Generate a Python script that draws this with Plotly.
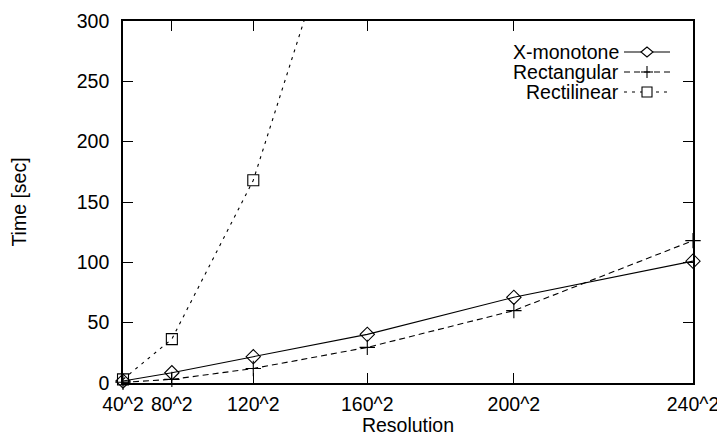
import plotly.graph_objects as go

# ---- data ----
resolution = [40, 80, 120, 160, 200, 240]
tick_labels = ["40^2", "80^2", "120^2", "160^2", "200^2", "240^2"]
x_monotone = [1.6, 8.5, 21.8, 40.3, 71.0, 101.0]
rectangular = [0.6, 3.0, 12.0, 29.5, 60.0, 118.0]
rectilinear = [3.0, 36.4, 168.0, 465.0]
series_names = ["X-monotone", "Rectangular", "Rectilinear"]
y_ticks = [0, 50, 100, 150, 200, 250, 300]

pixels = [r * r for r in resolution]
y_max = 300

FONT = "Liberation Sans, Arial, Helvetica, sans-serif"
FS = 19.5

# the page body has an 8px margin, so the figure is offset by (8, 8)
OFF = 8
W, H = 725 - OFF, 436 - OFF
L, R, T, B = 123 - OFF, 32, 21 - OFF, 53
plot_w = W - L - R
plot_h = H - T - B

fig = go.Figure()

fig.add_trace(go.Scatter(
    x=pixels, y=x_monotone, mode="lines+markers", name=series_names[0],
    line=dict(color="black", width=1.1),
    marker=dict(symbol="diamond-open", size=11, color="black", line=dict(width=1.1)),
    cliponaxis=False, showlegend=False))

fig.add_trace(go.Scatter(
    x=pixels, y=rectangular, mode="lines+markers", name=series_names[1],
    line=dict(color="black", width=1.1, dash="6px,4px"),
    marker=dict(symbol="cross-thin-open", size=11, color="black", line=dict(width=1.1, color="black")),
    cliponaxis=False, showlegend=False))

# rectilinear: line clipped to plot, markers only where within range
fig.add_trace(go.Scatter(
    x=pixels[:len(rectilinear)], y=rectilinear, mode="lines", name=series_names[2],
    line=dict(color="black", width=1.1, dash="3px,5px"),
    showlegend=False))
rl_x = [x for x, v in zip(pixels, rectilinear) if v <= y_max]
rl_y = [v for v in rectilinear if v <= y_max]
fig.add_trace(go.Scatter(
    x=rl_x, y=rl_y, mode="markers", name=series_names[2],
    marker=dict(symbol="square-open", size=11, color="black", line=dict(width=1.1)),
    cliponaxis=False, showlegend=False))

# ---- gnuplot-style key (text right-aligned, sample to the right) ----
# positions given in screen pixels of the final page
def px(xp):
    return (xp - OFF - L) / plot_w

def py(yp):
    return (H - B - (yp - OFF)) / plot_h

shapes = []
annotations = []
key_rows = [52, 72, 92]
dashes = ["solid", "6px,4px", "3px,5px"]
text_right = 621
s0, s1, mx = 624, 670, 647
for i, name in enumerate(series_names):
    yc = key_rows[i]
    annotations.append(dict(xref="paper", yref="paper", x=px(text_right), y=py(yc),
                            text=name, showarrow=False, xanchor="right", yanchor="middle",
                            font=dict(family=FONT, size=FS, color="black")))
    shapes.append(dict(type="line", xref="paper", yref="paper",
                       x0=px(s0), x1=px(s1), y0=py(yc), y1=py(yc),
                       line=dict(color="black", width=1.1, dash=dashes[i])))
fill = "white"
# diamond
yc = key_rows[0]
shapes.append(dict(type="path", xref="paper", yref="paper",
                   path=f"M {px(mx-6)},{py(yc)} L {px(mx)},{py(yc-5)} L {px(mx+6)},{py(yc)} L {px(mx)},{py(yc+5)} Z",
                   fillcolor=fill, line=dict(color="black", width=1.1)))
# plus
yc = key_rows[1]
shapes.append(dict(type="line", xref="paper", yref="paper",
                   x0=px(mx - 6), x1=px(mx + 6), y0=py(yc), y1=py(yc),
                   line=dict(color="black", width=1.1)))
shapes.append(dict(type="line", xref="paper", yref="paper",
                   x0=px(mx), x1=px(mx), y0=py(yc - 6), y1=py(yc + 6),
                   line=dict(color="black", width=1.1)))
# square
yc = key_rows[2]
shapes.append(dict(type="rect", xref="paper", yref="paper",
                   x0=px(mx - 5), x1=px(mx + 5), y0=py(yc - 5), y1=py(yc + 5),
                   fillcolor=fill, line=dict(color="black", width=1.1)))

axis_common = dict(showline=True, linecolor="black", linewidth=1.6, mirror="allticks",
                   ticks="inside", ticklen=10, tickwidth=1.4, tickcolor="black",
                   showgrid=False, zeroline=False, automargin=False,
                   tickfont=dict(family=FONT, size=FS, color="black"))

fig.update_layout(
    width=W, height=H,
    margin=dict(l=L, r=R, t=T, b=B, pad=0),
    paper_bgcolor="white", plot_bgcolor="white",
    font=dict(family=FONT, size=FS, color="black"),
    xaxis=dict(range=[pixels[0], pixels[-1]], tickmode="array", tickvals=pixels,
               ticktext=tick_labels, ticklabelstandoff=3,
               title=dict(text="Resolution", font=dict(family=FONT, size=FS), standoff=0),
               **axis_common),
    yaxis=dict(range=[0, y_max], tickmode="array", tickvals=y_ticks,
               ticklabelstandoff=8,
               title=dict(text="Time [sec]", font=dict(family=FONT, size=FS), standoff=46),
               **axis_common),
    shapes=shapes, annotations=annotations,
)

fig.write_html("out.html")
